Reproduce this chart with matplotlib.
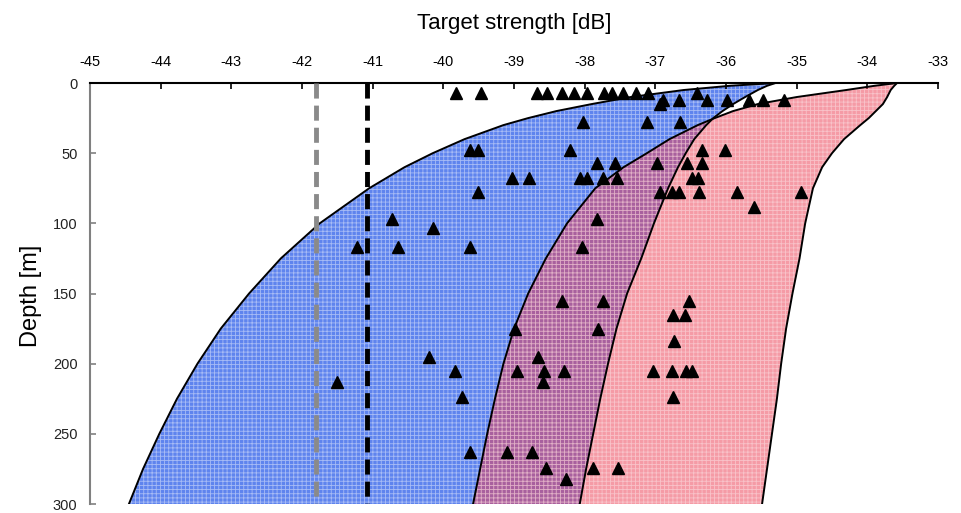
import matplotlib
matplotlib.use("Agg")
import matplotlib.pyplot as plt

plt.rcParams['font.family'] = ['Liberation Sans', 'DejaVu Sans']
plt.rcParams['hatch.linewidth'] = 0.6
plt.rcParams['axes.unicode_minus'] = False

# depth grid shared by all band edges [m]
depth = [0, 2, 5, 10, 15, 20, 25, 30, 40, 50, 60, 75, 100, 125, 150, 175,
         200, 225, 250, 275, 300]

# blue band edges (target strength, dB)
blue_left = [-35.30, -35.95, -36.60, -37.35, -37.90, -38.40, -38.80, -39.15,
             -39.70, -40.15, -40.55, -41.05, -41.75, -42.30, -42.75, -43.15,
             -43.48, -43.77, -44.02, -44.25, -44.45]
blue_right = [-35.30, -35.42, -35.55, -35.73, -35.90, -36.05, -36.18, -36.28,
              -36.45, -36.57, -36.68, -36.82, -37.02, -37.20, -37.40, -37.55,
              -37.67, -37.78, -37.88, -37.98, -38.07]

# red band edges
red_left = [-33.58, -33.90, -34.30, -35.00, -35.55, -35.90, -36.16, -36.40,
            -36.80, -37.12, -37.45, -37.85, -38.25, -38.55, -38.80, -39.00,
            -39.15, -39.27, -39.38, -39.48, -39.58]
red_right = [-33.58, -33.62, -33.67, -33.72, -33.78, -33.88, -33.98, -34.10,
             -34.33, -34.50, -34.64, -34.77, -34.88, -34.96, -35.06, -35.15,
             -35.22, -35.28, -35.35, -35.42, -35.49]

# observed targets
obs_ts = [-39.82, -39.47, -38.67, -38.53, -38.32, -38.15, -37.97, -37.73,
          -37.61, -37.46, -37.27, -37.10, -36.41,
          -36.89, -36.67, -36.27, -35.99, -35.67, -35.48, -35.18, -36.93,
          -38.02, -37.12, -36.65,
          -39.62, -39.51, -38.21, -36.34, -36.01,
          -37.83, -37.57, -36.98, -36.55, -36.34,
          -39.03, -38.79, -38.07, -37.97, -37.74, -37.54, -36.48, -36.40,
          -39.51, -36.93, -36.76, -36.67, -36.38, -35.84, -34.94,
          -35.60,
          -40.73, -37.83,
          -40.15,
          -41.22, -40.64, -39.62, -38.04,
          -38.32, -37.74, -36.52,
          -36.75, -36.58,
          -38.99, -37.81,
          -36.74,
          -40.20, -38.66,
          -39.84, -38.96, -38.58, -38.29, -37.03, -36.76, -36.57, -36.48,
          -41.50, -38.59,
          -39.74, -36.75,
          -39.62, -39.10, -38.75,
          -38.55, -37.88, -37.53,
          -38.26]
obs_depth = [7] * 13 + [12] * 7 + [15] + [28] * 3 + [48] * 5 + [57] * 5 + \
            [68] * 8 + [78] * 7 + [88] + [97] * 2 + [103] + [117] * 4 + \
            [155] * 3 + [165] * 2 + [175] * 2 + [184] + [195] * 2 + \
            [205] * 8 + [213] * 2 + [224] * 2 + [263] * 3 + [274] * 3 + [282]

# reference levels
ts_gray = -41.80
ts_black = -41.08

fig = plt.figure(figsize=(9.61, 5.13), dpi=100)
ax = fig.add_axes([0.0937, 0.0175, 0.8824, 0.8207])

ax.fill_betweenx(depth, blue_left, blue_right, facecolor='#5f84ee', linewidth=0, zorder=1)
ax.fill_betweenx(depth, blue_left, blue_right, facecolor='none', edgecolor=(1, 1, 1, 0.45),
                 hatch='++++', linewidth=0, zorder=1.1)
ax.fill_betweenx(depth, red_left, red_right, facecolor='#ec3f55', alpha=0.52, linewidth=0, zorder=2)
ax.fill_betweenx(depth, red_left, red_right, facecolor='none', edgecolor=(1, 1, 1, 0.4),
                 hatch='++++', linewidth=0, zorder=2.1)

for xs in (blue_left, blue_right, red_left, red_right):
    ax.plot(xs, depth, color='black', lw=1.4, zorder=3)

ax.plot([ts_gray, ts_gray], [0, 300], color='#8a8a8a', lw=3.5, ls=(0, (3.1, 1.45)), zorder=4)
ax.plot([ts_black, ts_black], [0, 300], color='black', lw=3.5, ls=(0, (3.1, 1.45)), zorder=4)

ax.plot(obs_ts, obs_depth, linestyle='none', marker='^', ms=8, color='black', zorder=5, clip_on=False)

ax.set_xlim(-45, -33)
ax.set_ylim(300, 0)
ax.set_xticks(range(-45, -32))
ax.set_yticks(range(0, 301, 50))
ax.xaxis.tick_top()
ax.tick_params(axis='x', direction='in', length=4, width=1.2, pad=10, labelsize=10.5, colors='black')
ax.tick_params(axis='y', direction='in', length=4, width=1.2, pad=9, labelsize=10.5,
               color='#808080', labelcolor='#222222')

for s in ('right', 'bottom'):
    ax.spines[s].set_visible(False)
ax.spines['top'].set_linewidth(1.5)
ax.spines['left'].set_linewidth(1.5)
ax.spines['left'].set_color('#808080')

fig.text(514 / 961, 1 - 24 / 513, 'Target strength [dB]', ha='center', va='center', fontsize=16)
fig.text(31 / 961, 1 - 296 / 513, 'Depth [m]', ha='center', va='center', rotation=90, fontsize=17)

fig.savefig('out.png', dpi=100)
